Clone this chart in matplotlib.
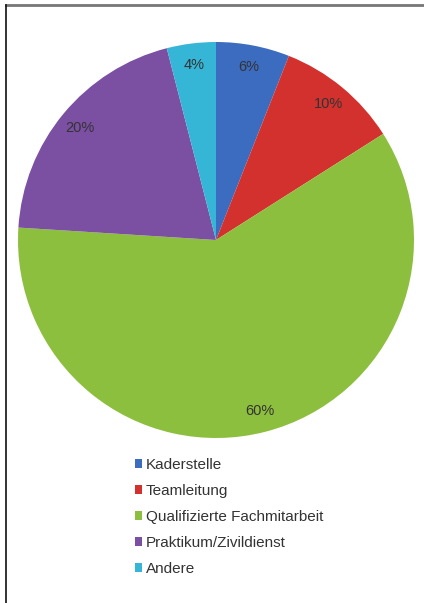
import matplotlib
matplotlib.use("Agg")
import matplotlib.pyplot as plt
from matplotlib.patches import Patch
from matplotlib.lines import Line2D

plt.rcParams["font.family"] = ["Liberation Sans", "DejaVu Sans"]

categories = ["Kaderstelle", "Teamleitung", "Qualifizierte Fachmitarbeit",
              "Praktikum/Zivildienst", "Andere"]
values = [6, 10, 60, 20, 4]
colors = ["#3c6cc0", "#d2312e", "#8dbf3e", "#7b4fa2", "#36b6d6"]

fig = plt.figure(figsize=(4.24, 6.03), dpi=100)
W, H = 424, 603
R = 198
cx, cy = 216, 240
ax = fig.add_axes([(cx - R) / W, 1 - (cy + R) / H, 2 * R / W, 2 * R / H])
wedges, texts, autotexts = ax.pie(values, colors=colors, startangle=90, counterclock=False,
                                  autopct=lambda p: f"{p:.0f}%", pctdistance=0.89,
                                  textprops=dict(color="#333333", fontsize=10.5))
ax.set_aspect("equal")
ax.set_xlim(-1, 1)
ax.set_ylim(-1, 1)
ax.axis("off")

handles = [Patch(facecolor=c, edgecolor="none") for c in colors]
leg = fig.legend(handles, categories, loc="upper left",
                 bbox_to_anchor=(127 / W, 1 - 450 / H), frameon=False,
                 fontsize=11, handlelength=0.5, handleheight=0.5, handletextpad=0.25,
                 labelspacing=0.79, borderpad=0, labelcolor="#333333")

fig.add_artist(Line2D([6 / W, 1], [1 - 5 / H, 1 - 5 / H], transform=fig.transFigure,
                      color="#777777", lw=2))
fig.add_artist(Line2D([6 / W, 6 / W], [0, 1 - 5 / H], transform=fig.transFigure,
                      color="#111111", lw=1.2))

fig.savefig("out.png", dpi=100, facecolor="white")
